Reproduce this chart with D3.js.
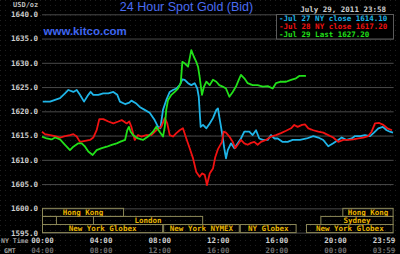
<!DOCTYPE html>
<html>
<head>
<meta charset="utf-8">
<script src="https://cdn.jsdelivr.net/npm/d3@7"></script>
<style>
  body { margin: 0; background: #000; }
  svg { display: block; }
</style>
</head>
<body>
<svg width="400" height="254"></svg>
<script>
/* Chart data: [hour after NY midnight, bid price] */

var jul27 = [[0.05,1622.0],[0.55,1622.0],[1.23,1622.7],[1.57,1623.7],[1.80,1624.4],[2.14,1624.0],[2.37,1624.4],[2.59,1623.4],[2.87,1622.0],[3.16,1623.4],[3.32,1624.0],[3.50,1623.4],[3.84,1623.4],[4.18,1623.7],[4.53,1623.7],[4.87,1624.0],[5.14,1623.4],[5.32,1622.0],[5.67,1621.5],[5.96,1621.8],[6.10,1622.2],[6.44,1621.6],[6.67,1620.9],[7.01,1620.3],[7.35,1619.7],[7.69,1618.2],[7.92,1616.8],[8.08,1616.5],[8.26,1620.3],[8.48,1622.3],[8.72,1624.0],[8.94,1624.4],[9.17,1624.7],[9.40,1625.4],[9.58,1626.6],[9.74,1626.5],[9.97,1625.8],[10.19,1625.4],[10.42,1625.8],[10.60,1624.7],[10.70,1623.0],[10.83,1616.8],[10.99,1617.2],[11.22,1616.5],[11.45,1617.5],[11.67,1618.6],[11.90,1620.3],[12.01,1620.6],[12.10,1618.9],[12.22,1616.8],[12.33,1614.8],[12.44,1612.4],[12.56,1610.3],[12.68,1612.0],[12.90,1613.4],[13.13,1612.4],[13.36,1613.4],[13.58,1614.4],[13.81,1615.8],[14.15,1615.8],[14.38,1615.1],[14.61,1616.1],[14.83,1614.4],[15.07,1614.1],[15.41,1614.1],[15.63,1615.1],[15.86,1614.4],[16.09,1614.4],[16.43,1613.7],[16.77,1613.7],[17.11,1614.1],[17.61,1614.1],[18.07,1614.4],[18.52,1614.9],[18.86,1614.6],[19.20,1614.1],[19.54,1612.8],[19.88,1613.4],[20.22,1614.1],[20.46,1614.6],[20.80,1614.1],[21.14,1614.4],[21.37,1614.9],[21.71,1614.9],[22.05,1615.1],[22.39,1614.9],[22.66,1615.6],[22.96,1616.5],[23.26,1616.8],[23.53,1616.1],[23.75,1615.8],[23.96,1615.6]];

var jul28 = [[0,1615.8],[0.20,1615.3],[0.55,1615.1],[0.89,1614.9],[1.23,1614.6],[1.57,1614.9],[1.91,1615.1],[2.14,1615.3],[2.37,1614.8],[2.59,1613.7],[2.94,1613.9],[3.28,1614.1],[3.50,1614.6],[3.73,1616.1],[3.91,1618.4],[4.18,1618.4],[4.53,1617.9],[4.87,1617.5],[5.21,1617.9],[5.44,1618.2],[5.78,1617.5],[5.96,1617.9],[6.10,1616.8],[6.33,1614.1],[6.55,1615.1],[6.78,1614.8],[7.12,1615.1],[7.46,1615.1],[7.80,1616.1],[8.14,1616.8],[8.38,1618.6],[8.55,1617.5],[8.72,1615.1],[8.94,1614.8],[9.17,1615.5],[9.40,1616.1],[9.62,1616.5],[9.85,1614.4],[10.08,1612.4],[10.31,1610.3],[10.53,1607.5],[10.76,1606.5],[10.92,1607.2],[11.11,1606.9],[11.26,1604.8],[11.45,1607.2],[11.67,1608.2],[11.83,1610.6],[12.01,1612.2],[12.29,1613.7],[12.40,1615.8],[12.56,1615.6],[12.79,1614.8],[13.02,1613.7],[13.19,1612.4],[13.36,1613.1],[13.58,1614.1],[13.81,1613.4],[14.04,1613.1],[14.27,1613.5],[14.49,1613.7],[14.72,1613.1],[14.95,1613.7],[15.29,1614.1],[15.63,1614.8],[15.97,1615.1],[16.31,1615.5],[16.66,1616.0],[17.00,1616.5],[17.22,1617.2],[17.45,1616.8],[17.75,1617.2],[17.95,1617.3],[18.18,1616.5],[18.52,1616.1],[18.86,1615.8],[19.20,1615.6],[19.54,1615.1],[19.88,1614.6],[20.22,1613.7],[20.57,1614.1],[20.91,1614.1],[21.25,1614.2],[21.59,1614.4],[21.93,1614.6],[22.27,1614.9],[22.50,1615.8],[22.73,1617.5],[23.02,1617.6],[23.30,1617.2],[23.57,1616.5],[23.89,1616.1]];

var jul29 = [[0,1614.8],[0.32,1614.4],[0.66,1614.2],[0.89,1614.6],[1.23,1614.2],[1.57,1613.1],[1.91,1612.0],[2.14,1612.7],[2.48,1613.4],[2.71,1613.4],[2.94,1612.7],[3.16,1611.7],[3.46,1611.0],[3.73,1612.0],[4.08,1612.4],[4.42,1612.7],[4.76,1613.1],[5.10,1613.4],[5.32,1613.7],[5.67,1614.1],[5.82,1616.1],[5.93,1616.8],[6.05,1615.8],[6.21,1615.1],[6.55,1614.4],[6.89,1614.1],[7.24,1614.8],[7.58,1615.8],[7.80,1616.8],[8.03,1615.8],[8.26,1614.8],[8.38,1616.8],[8.48,1620.3],[8.60,1622.3],[8.83,1623.4],[9.06,1624.0],[9.28,1624.7],[9.47,1625.8],[9.58,1630.2],[9.74,1629.9],[9.97,1629.2],[10.19,1632.6],[10.36,1631.3],[10.53,1630.2],[10.65,1629.2],[10.76,1627.1],[10.92,1623.4],[11.06,1625.1],[11.22,1626.1],[11.45,1625.4],[11.67,1626.5],[11.90,1626.1],[12.10,1625.4],[12.33,1625.1],[12.56,1624.7],[12.79,1623.0],[13.02,1624.0],[13.24,1625.1],[13.43,1626.5],[13.58,1627.5],[13.81,1626.8],[14.04,1625.8],[14.38,1625.4],[14.72,1625.4],[15.07,1625.1],[15.41,1625.2],[15.75,1624.7],[15.97,1625.8],[16.31,1626.1],[16.66,1626.1],[17.00,1626.5],[17.34,1626.8],[17.56,1627.3],[18.02,1627.3]];

var yTicks = [1595, 1600, 1605, 1610, 1615, 1620, 1625, 1630, 1635, 1640];
var gridHours = [0, 2, 4, 6, 8, 10, 12, 14, 16, 18, 20, 22, 24];
var labelHours = [0, 4, 8, 12, 16, 20, 23.98];
var nyLabels = ["00:00", "04:00", "08:00", "12:00", "16:00", "20:00", "23:59"];
var gmtLabels = ["04:00", "08:00", "12:00", "16:00", "20:00", "00:00", "03:59"];
var legendLabels = ["-Jul 27 NY close 1614.10", "-Jul 28 NY close 1617.20", "-Jul 29 Last 1627.20"];

// trading sessions: [row, start hour, end hour, name]
var sessions = [
  [0, 0, 5.6, "Hong Kong"],
  [0, 20.5, 24, "Hong Kong"],
  [1, 0, 1.02, ""],
  [1, 3.48, 11.0, "London"],
  [1, 19.0, 24, "Sydney"],
  [2, 0, 8.27, "New York Globex"],
  [2, 8.27, 13.5, "New York NYMEX"],
  [2, 13.5, 17.38, "NY Globex"],
  [2, 18.02, 24, "New York Globex"]
];
var nymexHours = [8.27, 13.5];

/* Setup */

var svg = d3.select("svg");
var colors = ["#1fb5e8", "#f01212", "#22e01a"];
var mono = "'DejaVu Sans Mono', monospace";

var x = d3.scaleLinear().domain([0, 24]).range([42, 393.6]);
var y = d3.scaleLinear().domain([1595, 1640]).range([232.6, 14.3]);

var left = x(0), right = x(24), top = y(1640), bottom = y(1595);

// dotted backdrop
var pat = svg.append("defs").append("pattern")
    .attr("id", "dots")
    .attr("width", 5).attr("height", 5)
    .attr("patternUnits", "userSpaceOnUse");
pat.append("rect").attr("width", 1).attr("height", 1).attr("fill", "#1f1f1f");

svg.append("rect").attr("width", 400).attr("height", 254).attr("fill", "#000");

// NYMEX shading
svg.append("rect")
    .attr("x", x(nymexHours[0]))
    .attr("y", top)
    .attr("width", x(nymexHours[1]) - x(nymexHours[0]))
    .attr("height", bottom - top)
    .attr("fill", "#1b1b1b");

svg.append("rect").attr("width", 400).attr("height", 254).attr("fill", "url(#dots)");

/* Grid */

var gridY = svg.append("g")
    .attr("transform", `translate(${left},0)`)
    .call(d3.axisLeft(y).tickValues(yTicks).tickSize(-(right - left)).tickFormat(""));
var gridX = svg.append("g")
    .attr("transform", `translate(0,${bottom})`)
    .call(d3.axisBottom(x).tickValues(gridHours).tickSize(-(bottom - top)).tickFormat(""));
[gridY, gridX].forEach((g) => {
  g.select(".domain").remove();
  g.selectAll("line").attr("stroke", "#4a4a4a").attr("stroke-width", 1);
});

/* Session boxes */

var rowH = (y(1595) - y(1600)) / 3;
var sess = svg.append("g").selectAll("g")
    .data(sessions)
    .enter().append("g");
sess.append("rect")
    .attr("x", (d) => x(d[1]) + 0.5)
    .attr("y", (d) => y(1600) + d[0] * rowH)
    .attr("width", (d) => x(d[2]) - x(d[1]) - 1)
    .attr("height", rowH)
    .attr("fill", "none")
    .attr("stroke", "#8a8656")
    .attr("stroke-width", 1);
sess.append("text")
    .attr("x", (d) => (x(d[1]) + x(d[2])) / 2)
    .attr("y", (d) => y(1600) + d[0] * rowH + rowH / 2 + 2.3)
    .attr("text-anchor", "middle")
    .attr("font-family", mono)
    .attr("font-size", "7.5px")
    .attr("font-weight", "bold")
    .attr("fill", "#e8b400")
    .text((d) => d[3]);

/* Price lines */

var line = d3.line()
    .x((d) => x(d[0]))
    .y((d) => y(d[1]));

svg.append("g").selectAll("path")
    .data([jul27, jul28, jul29])
    .enter().append("path")
    .attr("d", line)
    .attr("fill", "none")
    .attr("stroke", (d, i) => colors[i])
    .attr("stroke-width", 1.8)
    .attr("stroke-linejoin", "round");

/* Axes labels */

var yAxis = svg.append("g")
    .attr("transform", `translate(${left},0)`)
    .call(d3.axisLeft(y).tickValues(yTicks).tickFormat(d3.format(".1f")).tickSize(0).tickPadding(4));

var nyAxis = svg.append("g")
    .attr("transform", `translate(0,${bottom})`)
    .call(d3.axisBottom(x).tickValues(labelHours).tickFormat((d, i) => nyLabels[i]).tickSize(0).tickPadding(4.6));

var gmtAxis = svg.append("g")
    .attr("transform", `translate(0,${bottom})`)
    .call(d3.axisBottom(x).tickValues(labelHours).tickFormat((d, i) => gmtLabels[i]).tickSize(0).tickPadding(14.6));

[yAxis, nyAxis, gmtAxis].forEach((g) => {
  g.select(".domain").remove();
  g.selectAll("text")
    .attr("font-family", mono)
    .attr("font-size", "7.5px")
    .attr("font-weight", "bold")
    .attr("fill", "#d0d0d0");
});
gmtAxis.selectAll("text").attr("fill", "#6e6e6e");
[nyAxis, gmtAxis].forEach((g) => {
  g.selectAll("text").filter((d, i) => i === labelHours.length - 1)
    .attr("text-anchor", "end")
    .attr("dx", "0.2em");
});

svg.append("text")
    .attr("x", 1).attr("y", 242.5)
    .attr("font-family", mono).attr("font-size", "6.5px").attr("font-weight", "bold")
    .attr("fill", "#a0a0a0")
    .text("NY Time");
svg.append("text")
    .attr("x", 4).attr("y", 252.5)
    .attr("font-family", mono).attr("font-size", "6.5px").attr("font-weight", "bold")
    .attr("fill", "#a0a0a0")
    .text("GMT");

/* Titles */

svg.append("text")
    .attr("x", 13).attr("y", 7)
    .attr("font-family", mono).attr("font-size", "7px").attr("font-weight", "bold")
    .attr("fill", "#bdbdbd")
    .text("USD/oz");

svg.append("text")
    .attr("x", 186.5).attr("y", 11)
    .attr("text-anchor", "middle")
    .attr("font-family", "'Liberation Sans', Arial, sans-serif")
    .attr("font-size", "12.5px")
    .attr("fill", "#4a6cf2")
    .text("24 Hour Spot Gold (Bid)");

svg.append("text")
    .attr("x", 43.5).attr("y", 35)
    .attr("font-family", "'Liberation Sans', Arial, sans-serif")
    .attr("font-size", "11.5px")
    .attr("font-weight", "bold")
    .attr("fill", "#3f66f0")
    .text("www.kitco.com");

svg.append("text")
    .attr("x", 386).attr("y", 11.5)
    .attr("text-anchor", "end")
    .attr("font-family", mono).attr("font-size", "7.5px").attr("font-weight", "bold")
    .attr("fill", "#cfcfcf")
    .text("July 29, 2011 23:58");

/* Legend */

var legend = svg.append("g");
legend.append("rect")
    .attr("x", 276.5).attr("y", 14.5)
    .attr("width", 117).attr("height", 24.5)
    .attr("fill", "#000")
    .attr("stroke", "#5a5a5a");
legend.selectAll("text")
    .data(legendLabels)
    .enter().append("text")
    .attr("x", 279)
    .attr("y", (d, i) => 20.7 + i * 8)
    .attr("font-family", mono)
    .attr("font-size", "7.5px")
    .attr("font-weight", "bold")
    .attr("fill", (d, i) => colors[i])
    .text((d) => d);
</script>
</body>
</html>
